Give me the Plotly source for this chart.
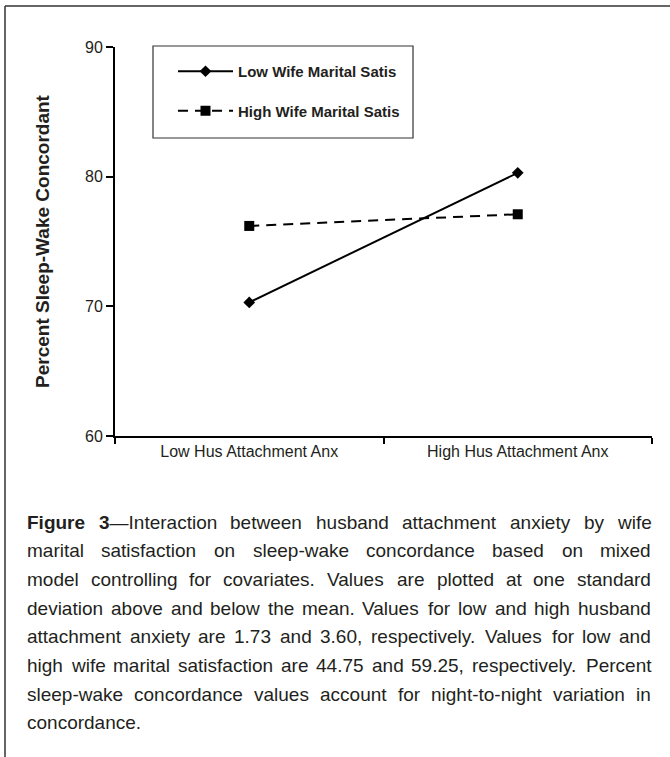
import plotly.graph_objects as go

# ---------------- data ----------------
categories = ["Low Hus Attachment Anx", "High Hus Attachment Anx"]
series_names = ["Low Wife Marital Satis", "High Wife Marital Satis"]
low_wife_values = [70.3, 80.3]
high_wife_values = [76.2, 77.1]
y_tick_values = [60, 70, 80, 90]
y_axis_title = "Percent Sleep-Wake Concordant"
caption_lines = [
    "Figure 3\u2014Interaction between husband attachment anxiety by wife",
    "marital satisfaction on sleep-wake concordance based on mixed",
    "model controlling for covariates. Values are plotted at one standard",
    "deviation above and below the mean. Values for low and high husband",
    "attachment anxiety are 1.73 and 3.60, respectively. Values for low and",
    "high wife marital satisfaction are 44.75 and 59.25, respectively. Percent",
    "sleep-wake concordance values account for night-to-night variation in",
    "concordance.",
]
caption_bold_prefix = "Figure 3"

# ---------------- geometry ----------------
W, H = 670, 757
PL, PR, PT, PB = 115, 652, 47, 436   # plot area in pixels


def px(x):
    return (x - PL) / (PR - PL)


def py(y):
    return (PB - y) / (PB - PT)


FONT = "Liberation Sans, Arial, Helvetica, sans-serif"

# Arial / Helvetica advance widths (1/1000 em) for justified caption layout
REG = dict(zip("abcdefghijklmnopqrstuvwxyz",
               [556, 556, 500, 556, 556, 278, 556, 556, 222, 222, 500, 222, 833,
                556, 556, 556, 556, 333, 500, 278, 556, 500, 722, 500, 500, 500]))
REG.update(dict(zip("ABCDEFGHIJKLMNOPQRSTUVWXYZ",
                    [667, 667, 722, 722, 667, 611, 778, 722, 278, 500, 667, 556, 833,
                     722, 778, 667, 778, 722, 667, 611, 722, 667, 944, 667, 667, 611])))
REG.update({d: 556 for d in "0123456789"})
REG.update({" ": 278, ".": 278, ",": 278, "-": 333, "\u2014": 1000, "(": 333, ")": 333})
BOLD = dict(zip("abcdefghijklmnopqrstuvwxyz",
                [556, 611, 556, 611, 556, 333, 611, 611, 278, 278, 556, 278, 889,
                 611, 611, 611, 611, 389, 556, 333, 611, 556, 778, 556, 556, 500]))
BOLD.update(dict(zip("ABCDEFGHIJKLMNOPQRSTUVWXYZ",
                     [722, 722, 722, 722, 667, 611, 778, 722, 278, 556, 722, 611, 833,
                      722, 778, 667, 778, 722, 667, 611, 722, 667, 944, 667, 667, 611])))
BOLD.update({d: 556 for d in "0123456789"})
BOLD.update({" ": 278})


def em_width(parts):
    tot = 0
    for txt, b in parts:
        tab = BOLD if b else REG
        tot += sum(tab.get(c, 556) for c in txt)
    return tot / 1000.0


# split caption into words with bold flags
bold_left = len(caption_bold_prefix.replace(" ", ""))
caption_words = []
for li, line in enumerate(caption_lines):
    words = []
    for w in line.split(" "):
        parts = []
        cur, curb = "", None
        for c in w:
            b = bold_left > 0
            if b:
                bold_left -= 1
            if curb is None or b == curb:
                cur += c
                curb = b
            else:
                parts.append((cur, curb))
                cur, curb = c, b
        parts.append((cur, curb))
        words.append(parts)
    caption_words.append(words)

CAP_X0, CAP_X1 = 26, 650
target = CAP_X1 - CAP_X0
max_em = max(sum(em_width(p) for p in ws) + 0.278 * (len(ws) - 1)
             for ws in caption_words[:-1])
cap_size = min(19.0, target / max_em * 0.995)
CAP_Y0, CAP_DY = 522, 28.7

annotations = []
for li, ws in enumerate(caption_words):
    widths = [em_width(p) * cap_size for p in ws]
    if li < len(caption_words) - 1 and len(ws) > 1:
        gap = (target - sum(widths)) / (len(ws) - 1)
    else:
        gap = 0.278 * cap_size
    x = CAP_X0
    for parts, wd in zip(ws, widths):
        txt = "".join(("<b>%s</b>" % t) if b else t for t, b in parts)
        annotations.append(dict(
            text=txt, x=px(x), y=py(CAP_Y0 + li * CAP_DY),
            xref="paper", yref="paper", xanchor="left", yanchor="middle",
            showarrow=False, borderpad=0,
            font=dict(family=FONT, size=cap_size, color="#231f20")))
        x += wd + gap

fig = go.Figure()
fig.add_trace(go.Scatter(
    x=categories, y=low_wife_values, name=series_names[0], legendgroup="a",
    mode="lines+markers",
    line=dict(color="black", width=2),
    marker=dict(symbol="diamond", size=9, color="black"),
))
fig.add_trace(go.Scatter(
    x=categories, y=high_wife_values, name=series_names[1], legendgroup="b",
    mode="lines+markers",
    line=dict(color="black", width=2, dash="10px,7px"),
    marker=dict(symbol="square", size=10, color="black"),
))

shapes = [
    # figure frame (top and left rules)
    dict(type="line", xref="paper", yref="paper", x0=px(5), x1=px(670), y0=py(6), y1=py(6),
         line=dict(color="#333333", width=1.5)),
    dict(type="line", xref="paper", yref="paper", x0=px(5), x1=px(5), y0=py(6), y1=py(757),
         line=dict(color="#333333", width=1.5)),
    # legend box
    dict(type="rect", xref="paper", yref="paper", x0=px(153), x1=px(413), y0=py(46), y1=py(138),
         line=dict(color="#333333", width=1.2), fillcolor="rgba(0,0,0,0)"),
]

fig.update_layout(
    width=W, height=H,
    margin=dict(l=PL, r=W - PR, t=PT, b=H - PB),
    paper_bgcolor="white", plot_bgcolor="white",
    font=dict(family=FONT, color="#231f20"),
    showlegend=True,
    legend=dict(
        x=px(173), y=py(55), xanchor="left", yanchor="top",
        bgcolor="rgba(0,0,0,0)", borderwidth=0,
        traceorder="grouped", tracegroupgap=17, itemwidth=55,
        font=dict(family=FONT, size=15, color="#231f20", weight="bold"),
    ),
    xaxis=dict(
        type="category", range=[-0.5, 1.5], tickson="boundaries",
        ticks="outside", ticklen=6, tickwidth=1.5, tickcolor="black",
        showline=True, linecolor="black", linewidth=2,
        showgrid=False, zeroline=False,
        tickfont=dict(family=FONT, size=16, color="#231f20"),
    ),
    yaxis=dict(
        range=[60, 90], tickvals=y_tick_values,
        ticks="outside", ticklen=7, tickwidth=1.5, tickcolor="black",
        showline=True, linecolor="black", linewidth=2,
        showgrid=False, zeroline=False,
        tickfont=dict(family=FONT, size=16, color="#231f20"),
        title=dict(text="<b>%s</b>" % y_axis_title, standoff=30,
                   font=dict(family=FONT, size=19, color="#231f20")),
    ),
    shapes=shapes,
    annotations=annotations,
)

fig.write_html("out.html", config={"displayModeBar": False},
               post_script="document.body.style.margin='0';")
